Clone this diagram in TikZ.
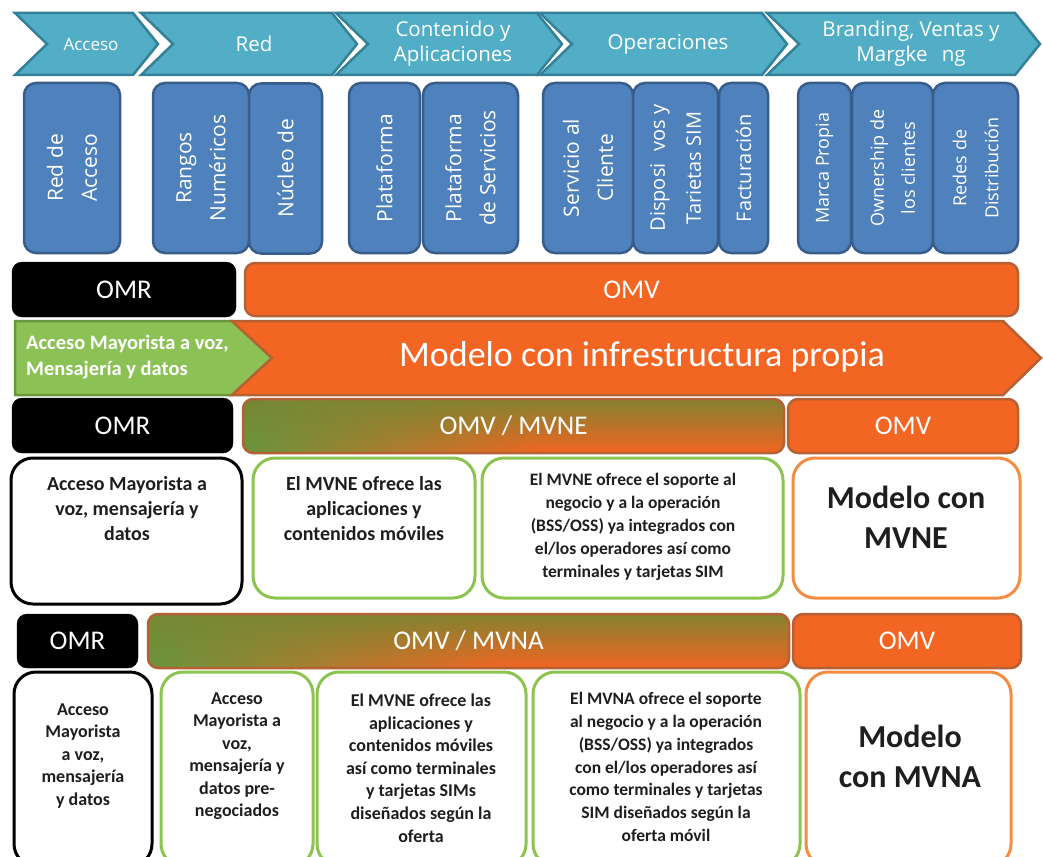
\documentclass[tikz,border=0pt]{standalone}
\usepackage{fontspec}
\setmainfont{Carlito}
\newfontfamily\opensans{Open Sans}
\usetikzlibrary{positioning,fadings}
\definecolor{chevfill}{RGB}{82,174,199}
\definecolor{chevline}{RGB}{52,128,150}
\definecolor{boxblue}{RGB}{79,129,189}
\definecolor{boxline}{RGB}{56,93,138}
\definecolor{omvorange}{RGB}{242,101,34}
\definecolor{omvline}{RGB}{180,98,52}
\definecolor{omrgreen}{RGB}{140,194,85}
\definecolor{omrgreenline}{RGB}{104,152,62}
\definecolor{gradgreen}{RGB}{104,150,62}
\definecolor{gradtop}{RGB}{120,134,50}
\definecolor{mvgreen}{RGB}{140,196,80}
\definecolor{mvorange}{RGB}{245,140,66}
\definecolor{ink}{RGB}{30,30,30}
\pgfdeclarehorizontalshading{omvgrad}{100bp}{color(0bp)=(gradgreen); color(25bp)=(gradgreen); color(52bp)=(omvorange); color(100bp)=(omvorange)}
\tikzfading[name=topfade, top color=transparent!10, middle color=transparent!75, bottom color=transparent!100]
\begin{document}
\begin{tikzpicture}[x=1pt,y=-1pt,
  chev/.style={fill=chevfill,draw=chevline,line width=2.5pt},
  chevtext/.style={text=white,align=center,inner sep=0pt,font=\opensans\fontsize{20.5}{25}\selectfont},
  bluebox/.style={rectangle,rounded corners=12pt,fill=boxblue,draw=boxline,line width=2.5pt,text=white,align=center,rotate=90,inner sep=0pt,font=\opensans\fontsize{21}{34}\selectfont},
  tagbox/.style={rectangle,rounded corners=10pt,text=white,inner sep=0pt,font=\fontsize{27}{30}\selectfont},
  omrtag/.style={tagbox,fill=black,draw=black},
  omvtag/.style={tagbox,fill=omvorange,draw=omvline,line width=2.5pt},
  mixtag/.style={tagbox,draw=omvline,line width=2.5pt,preaction={shade,shading=omvgrad},preaction={fill=gradtop,path fading=topfade}},
  card/.style={rectangle,rounded corners=22pt,fill=white,line width=3pt},
  omrcard/.style={card,draw=black},
  mvcard/.style={card,draw=mvgreen},
  omvcard/.style={card,draw=mvorange},
  cardtext/.style 2 args={text=ink,align=center,inner sep=0pt,font=\bfseries\fontsize{#1}{#2}\selectfont}]
\useasboundingbox (0,0) rectangle (1043,856);
\clip (0,0) rectangle (1043,856);
\fill[white] (0,0) rectangle (1043,856);
% cadena de valor
\draw[chev] (15,13)--(133,13)--(158,44)--(133,75)--(15,75)--(47,44)--cycle;
\draw[chev] (141,13)--(332,13)--(357,44)--(332,75)--(141,75)--(173,44)--cycle;
\draw[chev] (336,13)--(537,13)--(562,44)--(537,75)--(336,75)--(368,44)--cycle;
\draw[chev] (540,13)--(762,13)--(787,44)--(762,75)--(540,75)--(572,44)--cycle;
\draw[chev] (767,13)--(1015,13)--(1040,44)--(1015,75)--(767,75)--(799,44)--cycle;
\node[chevtext,font=\opensans\fontsize{17}{21}\selectfont] (acceso) at (91,44) {Acceso};
\node[chevtext] (red) at (254,44) {Red};
\node[chevtext] (contenido) at (453,44) {Contenido y\\Aplicaciones};
\node[chevtext] (operaciones) at (668,44) {Operaciones};
\node[chevtext] (branding) at (911,44) {Branding, Ventas y\\Margke\hspace{0.7em}ng};
% bloques
\node[bluebox,minimum width=170,minimum height=96] (redacceso) at (72,168) {Red de\\Acceso};
\node[bluebox,minimum width=170,minimum height=96] (rangos) at (201,168) {Rangos\\Numéricos};
\node[bluebox,minimum width=170,minimum height=73] (nucleo) at (285.5,168.5) {Núcleo de};
\node[bluebox,minimum width=170,minimum height=71] (plataforma) at (384.5,168) {Plataforma};
\node[bluebox,minimum width=170,minimum height=95] (servplat) at (470.5,168) {Plataforma\\de Servicios};
\node[bluebox,minimum width=170,minimum height=90] (cliente) at (588,168) {Servicio al\\Cliente};
\node[bluebox,minimum width=170,minimum height=85,font=\opensans\fontsize{20}{36}\selectfont] (sim) at (675.5,168) {Disposi\hspace{0.6em}vos y\\Tarietas SIM};
\node[bluebox,minimum width=170,minimum height=49,font=\opensans\fontsize{20}{34}\selectfont] (factura) at (743.5,168) {Facturación};
\node[bluebox,minimum width=170,minimum height=53,font=\opensans\fontsize{18}{31}\selectfont] (marca) at (824.5,168) {Marca Propia};
\node[bluebox,minimum width=170,minimum height=81,font=\opensans\fontsize{18}{31}\selectfont] (ownership) at (892.5,168) {Ownership de\\los clientes};
\node[bluebox,minimum width=170,minimum height=85,font=\opensans\fontsize{18}{32}\selectfont] (redes) at (975.5,168) {Redes de\\Distribución};
% infraestructura propia
\node[omrtag,minimum width=224,minimum height=55] (omr1) at (124,289.5) {OMR};
\node[omvtag,minimum width=773,minimum height=53] (omv1) at (631.5,289.5) {OMV};
\draw[fill=omrgreen,draw=omrgreenline,line width=2.5pt] (15,321)--(232,321)--(272,358)--(232,395)--(15,395)--cycle;
\draw[fill=omvorange,draw=omvline,line width=2.5pt] (232,321)--(1003,321)--(1041,358)--(1003,395)--(232,395)--(272,358)--cycle;
\node[text=white,anchor=west,align=left,inner sep=0pt,font=\bfseries\fontsize{20.5}{26}\selectfont] (mayorista) at (26,357) {Acceso Mayorista a voz,\\Mensajería y datos};
\node[text=white,inner sep=0pt,font=\fontsize{36}{40}\selectfont] (propia) at (642,357) {Modelo con infrestructura propia};
% MVNE
\node[omrtag,minimum width=221,minimum height=55] (omr2) at (122.5,425.5) {OMR};
\node[mixtag,minimum width=541,minimum height=54] (mvne) at (513.5,426) {OMV / MVNE};
\node[omvtag,minimum width=230,minimum height=54] (omv2) at (903,426) {OMV};
\node[omrcard,minimum width=231,minimum height=146] (cardA) at (126.5,531) {};
\node[mvcard,minimum width=222,minimum height=140] (cardB) at (364,528) {};
\node[mvcard,minimum width=301,minimum height=140] (cardC) at (632.5,528) {};
\node[omvcard,minimum width=227,minimum height=140] (cardD) at (906.5,528) {};
\node[cardtext={20}{25}] (textA) at (127,509) {Acceso Mayorista a\\voz, mensajería y\\datos};
\node[cardtext={20}{25}] (textB) at (364,509) {El MVNE ofrece las\\aplicaciones y\\contenidos móviles};
\node[cardtext={17.5}{23}] (textC) at (633,527) {El MVNE ofrece el soporte al\\negocio y a la operación\\(BSS/OSS) ya integrados con\\el/los operadores así como\\terminales y tarjetas SIM};
\node[cardtext={32}{40}] (textD) at (906,517) {Modelo con\\MVNE};
% MVNA
\node[omrtag,minimum width=121,minimum height=54] (omr3) at (77.5,641) {OMR};
\node[mixtag,minimum width=641,minimum height=54] (mvna) at (468.5,641) {OMV / MVNA};
\node[omvtag,minimum width=228,minimum height=54] (omv3) at (907,641) {OMV};
\node[omrcard,minimum width=138,minimum height=194] (cardE) at (83,769) {};
\node[mvcard,minimum width=152,minimum height=194] (cardF) at (237,769) {};
\node[mvcard,minimum width=209,minimum height=194] (cardG) at (421.5,769) {};
\node[mvcard,minimum width=267,minimum height=194] (cardH) at (666.5,769) {};
\node[omvcard,minimum width=205,minimum height=194] (cardI) at (908.5,769) {};
\node[cardtext={18}{22.5}] (textE) at (83,756) {Acceso\\Mayorista\\a voz,\\mensajería\\y datos};
\node[cardtext={18}{22.5}] (textF) at (237,756) {Acceso\\Mayorista a\\voz,\\mensajería y\\datos pre-\\negociados};
\node[cardtext={18}{22.6}] (textG) at (421,768) {El MVNE ofrece las\\aplicaciones y\\contenidos móviles\\así como terminales\\y tarjetas SIMs\\diseñados según la\\oferta};
\node[cardtext={17.5}{22.7}] (textH) at (666,767) {El MVNA ofrece el soporte\\al negocio y a la operación\\(BSS/OSS) ya integrados\\con el/los operadores así\\como terminales y tarjetas\\SIM diseñados según la\\oferta móvil};
\node[cardtext={32}{40}] (textI) at (910,756) {Modelo\\con MVNA};
\end{tikzpicture}
\end{document}
